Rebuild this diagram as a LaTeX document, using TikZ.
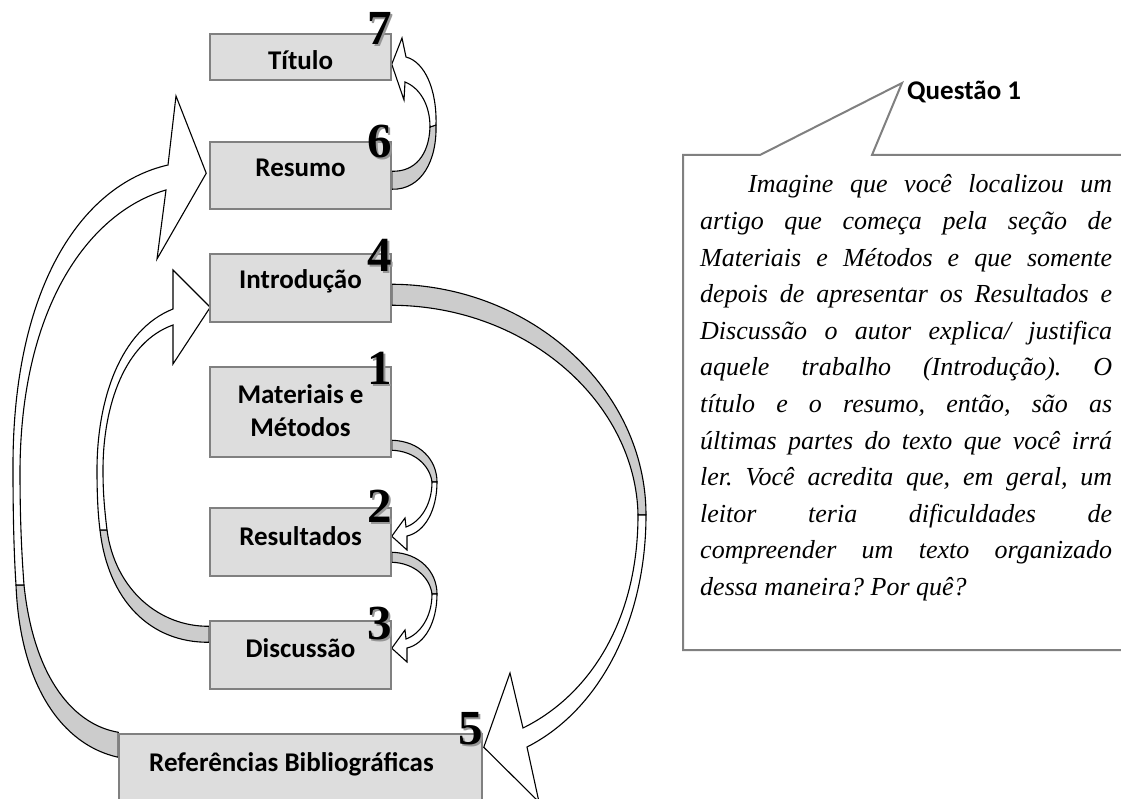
\documentclass[tikz,border=0pt]{standalone}
\usepackage{fontspec}
\setmainfont{Liberation Serif}
\newfontfamily\lblfont{Carlito}
\newfontfamily\numfont{Liberation Serif}
\newfontfamily\qfont{Liberation Serif}
\usetikzlibrary{calc}
\pgfdeclarelayer{bg}
\pgfsetlayers{bg,main}
\definecolor{boxfill}{RGB}{221,221,221}
\definecolor{boxline}{RGB}{128,128,128}
\definecolor{cres}{RGB}{204,204,204}
\definecolor{shad}{RGB}{150,150,150}
\tikzset{
  secbox/.style={draw=boxline, fill=boxfill, line width=1.5pt, minimum width=181pt, inner sep=0pt},
  lbl/.style={font=\lblfont\bfseries\fontsize{27}{33}\selectfont, anchor=base, inner sep=0pt},
  numlbl/.style={font=\numfont\bfseries\fontsize{49}{49}\selectfont, anchor=base east, inner sep=0pt},
  back/.style={fill=cres, draw=black, line width=1.1pt, line join=round},
  front/.style={fill=white, draw=black, line width=1.1pt, line join=miter},
  callout/.style={draw=boxline, fill=white, line width=2pt, line join=miter}
}
\newcommand\shnum[1]{\makebox[0pt][l]{\kern2pt\raisebox{-2pt}{\textcolor{shad}{#1}}}#1}
\begin{document}
\begin{tikzpicture}[x=1pt,y=-1pt]
\useasboundingbox (0,0) rectangle (1121,799);
\clip (0,0) rectangle (1121,799);

% boxes
\node[secbox, minimum height=46pt] (tit) at (300.5,57) {};
\node[secbox, minimum height=67pt] (resm) at (300.5,175.5) {};
\node[secbox, minimum height=68pt] (intro) at (300.5,288) {};
\node[secbox, minimum height=90pt] (mat) at (300.5,412) {};
\node[secbox, minimum height=68pt] (resul) at (300.5,542) {};
\node[secbox, minimum height=68pt] (disc) at (300.5,655) {};
\node[secbox, minimum width=363pt, minimum height=70pt] (ref) at (300.5,769) {};

\begin{pgfonlayer}{bg}
% Resumo -> Titulo
\path[back] ($(resm.north east)+(0,48)$) .. controls (422,190) and (437,160) .. (436,125) -- (430,127) .. controls (429,155) and (415,172) .. ($(resm.north east)+(0,30)$) -- cycle;
\path[front] ($(tit.north east)+(0,31)$) -- (402,38) -- (406,57) .. controls (425,62) and (437,90) .. (436,125) -- (430,127) .. controls (430,105) and (420,88) .. (405,82) -- (404,100) -- cycle;
% Materiais -> Resultados
\path[back] ($(mat.north east)+(0,74)$) .. controls (420,441) and (437,460) .. (437,482) -- (432,482) .. controls (430,466) and (415,451) .. ($(mat.north east)+(0,84)$) -- cycle;
\path[front] ($(resul.north east)+(0,29)$) -- (405,518) -- (406,527) .. controls (420,522) and (432,505) .. (432,482) -- (437,482) .. controls (437,510) and (425,532) .. (407,536) -- (407,550) -- cycle;
% Resultados -> Discussao
\path[back] ($(resul.north east)+(0,45)$) .. controls (420,553) and (437,572) .. (437,594) -- (432,594) .. controls (430,578) and (415,563) .. ($(resul.north east)+(0,55)$) -- cycle;
\path[front] ($(disc.north east)+(0,28)$) -- (405,630) -- (406,639) .. controls (420,634) and (432,617) .. (432,594) -- (437,594) .. controls (437,622) and (425,644) .. (407,648) -- (407,662) -- cycle;
% Introducao -> Referencias
\path[back] ($(intro.north east)+(0,31)$) .. controls (532,285) and (646,390) .. (646,515) -- (638,515) .. controls (636,405) and (530,306) .. ($(intro.north east)+(0,52)$) -- cycle;
\path[front] ($(ref.north east)+(1,14)$) -- (510,673) -- (523,728) .. controls (590,695) and (638,620) .. (638,515) -- (646,515) .. controls (646,620) and (600,710) .. (527,747) -- (539,802) -- cycle;
% Discussao -> Introducao
\path[back] ($(disc.north west)+(0,22)$) .. controls (150,643) and (108,600) .. (100,530) -- (107,530) .. controls (115,590) and (160,627) .. ($(disc.north west)+(0,6)$) -- cycle;
\path[front] ($(intro.north west)+(1,54)$) -- (173,270) -- (173,309) .. controls (120,330) and (97,400) .. (97,470) .. controls (97,495) and (98,515) .. (100,530) -- (107,530) .. controls (104,505) and (103,490) .. (103,470) .. controls (103,405) and (125,342) .. (173,325) -- (173,364) -- cycle;
% Referencias -> Resumo
\path[back] ($(ref.north west)+(0,24)$) .. controls (62,745) and (20,685) .. (16,585) -- (24,585) .. controls (34,680) and (75,725) .. ($(ref.north west)+(0,-1)$) -- cycle;
\path[front] ($(resm.north west)+(-3,32)$) -- (176,96) -- (168,165) .. controls (80,185) and (12,290) .. (13,470) .. controls (13,515) and (14,555) .. (16,585) -- (24,585) .. controls (21,545) and (20,510) .. (20,470) .. controls (21,305) and (90,212) .. (166,190) -- (157,259) -- cycle;
\end{pgfonlayer}

% labels
\node[lbl] (tTit) at ($(tit.north)+(0,36)$) {Título};
\node[lbl] (tRes) at ($(resm.north)+(0,35)$) {Resumo};
\node[lbl] (tInt) at ($(intro.north)+(0,35)$) {Introdução};
\node[lbl] (tMat) at ($(mat.north)+(0,37)$) {\parbox[t]{181pt}{\centering Materiais e\\Métodos}};
\node[lbl] (tRsl) at ($(resul.north)+(0,38)$) {Resultados};
\node[lbl] (tDis) at ($(disc.north)+(0,37)$) {Discussão};
\node[lbl] (tRef) at ($(ref.north)+(-9,38)$) {Referências Bibliográficas};

% numbers
\node[numlbl] (n7) at ($(tit.north east)+(0,11)$) {\shnum{7}};
\node[numlbl] (n6) at ($(resm.north east)+(0,16)$) {\shnum{6}};
\node[numlbl] (n4) at ($(intro.north east)+(0,18)$) {\shnum{4}};
\node[numlbl] (n1) at ($(mat.north east)+(0,18)$) {\shnum{1}};
\node[numlbl] (n2) at ($(resul.north east)+(0,15)$) {\shnum{2}};
\node[numlbl] (n3) at ($(disc.north east)+(0,19)$) {\shnum{3}};
\node[numlbl] (n5) at ($(ref.north east)+(0,11)$) {\shnum{5}};

% callout
\coordinate (cA) at (683,155);
\coordinate (cB) at (760,155);
\coordinate (cTip) at (902,83);
\coordinate (cC) at (872,155);
\coordinate (cD) at (1130,155);
\coordinate (cE) at (1130,650);
\coordinate (cF) at (683,650);
\path[callout] (cA) -- (cB) -- (cTip) -- (cC) -- (cD) -- (cE) -- (cF) -- cycle;
\node[anchor=base west, inner sep=0pt, font=\lblfont\bfseries\fontsize{27}{33}\selectfont] (q1) at (907,100) {Questão 1};
\node[anchor=base west, inner sep=0pt, font=\qfont\itshape\fontsize{26}{36.6}\selectfont] (qtext) at (700,193) {\parbox[t]{412pt}{\frenchspacing\tolerance=10000\hyphenpenalty=10000\hspace*{48pt}Imagine que você localizou um\linebreak artigo que começa pela seção de\linebreak Materiais e Métodos e que somente\linebreak depois de apresentar os Resultados e\linebreak Discussão o autor explica/ justifica\linebreak aquele trabalho (Introdução). O\linebreak título e o resumo, então, são as\linebreak últimas partes do texto que você irrá\linebreak ler. Você acredita que, em geral, um\linebreak leitor teria dificuldades de\linebreak compreender um texto organizado\linebreak dessa maneira? Por quê?}};
\end{tikzpicture}
\end{document}
